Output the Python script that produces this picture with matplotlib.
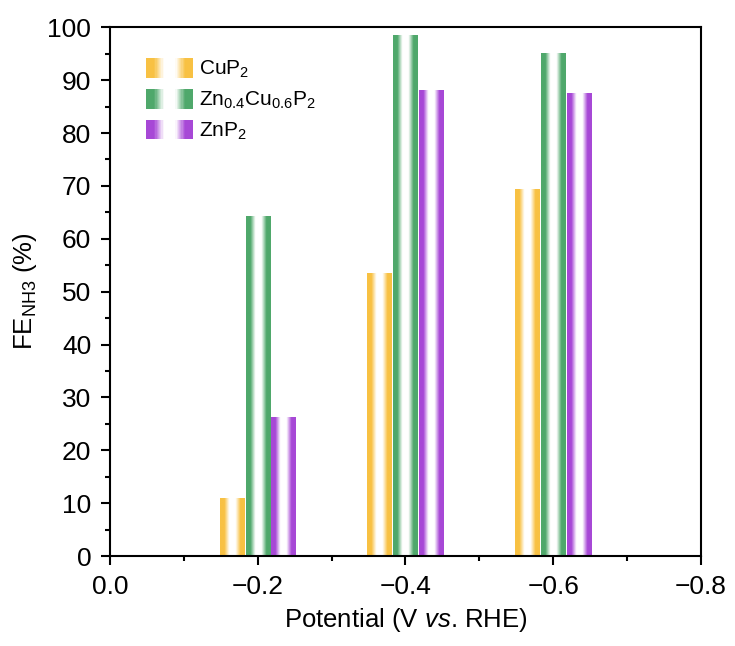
import numpy as np
import matplotlib
matplotlib.use('Agg')
import matplotlib.pyplot as plt
from matplotlib.patches import Rectangle
from matplotlib.legend_handler import HandlerBase
from matplotlib.colors import to_rgb

plt.rcParams['font.family'] = ['Liberation Sans', 'DejaVu Sans']
plt.rcParams['mathtext.fontset'] = 'custom'
plt.rcParams['mathtext.rm'] = 'Liberation Sans'
plt.rcParams['mathtext.it'] = 'Liberation Sans:italic'

potentials = [-0.2, -0.4, -0.6]
names = ['CuP$_2$', 'Zn$_{0.4}$Cu$_{0.6}$P$_2$', 'ZnP$_2$']
fe_cup2 = [10.8, 53.5, 69.3]
fe_zncup2 = [64.2, 98.5, 95.1]
fe_znp2 = [26.2, 88.0, 87.4]
colors = ['#F8C143', '#4FA86B', '#A748D6']

width = 0.033
# x axis runs from 0 to -0.8, so positive offset is drawn on the left
offsets = [0.035, 0.0, -0.035]


def weight(t):
    # colour at both edges, white in the middle
    return np.clip((np.abs(2 * t - 1) - 0.25) / 0.4, 0, 1)


def gradient_img(color, n=64):
    t = np.linspace(0, 1, n)
    w = weight(t)[:, None]
    rgb = 1 - w * (1 - np.array(to_rgb(color)))
    return rgb[None, :, :]


class GradientHandler(HandlerBase):
    def __init__(self, color):
        super().__init__()
        self.color = color

    def create_artists(self, legend, orig_handle, xdescent, ydescent,
                       width, height, fontsize, trans):
        n = 40
        t = (np.arange(n) + 0.5) / n
        c = np.array(to_rgb(self.color))
        arts = []
        for i in range(n):
            col = 1 - weight(t[i]) * (1 - c)
            r = Rectangle((-xdescent + width * i / n, -ydescent), width / n * 1.05,
                          height, facecolor=col, edgecolor='none', transform=trans)
            arts.append(r)
        return arts


fig = plt.figure(figsize=(7.35, 6.46), dpi=100)
ax = fig.add_axes([0.1497, 0.1393, 0.8040, 0.8185])

handles = []
for vals, off, col, name in zip([fe_cup2, fe_zncup2, fe_znp2], offsets, colors, names):
    x = np.array(potentials) + off
    bars = ax.bar(x, vals, width=width, color='none', edgecolor='none', label=name)
    img = gradient_img(col)
    for b in bars:
        x0, y0 = b.get_x(), b.get_y()
        ax.imshow(img, extent=[x0, x0 + b.get_width(), y0, y0 + b.get_height()],
                  aspect='auto', interpolation='bilinear', zorder=2)
    handles.append(Rectangle((0, 0), 1, 1, label=name))

ax.set_xlim(0.0, -0.8)
ax.set_ylim(0, 100)
ax.set_xticks([0.0, -0.2, -0.4, -0.6, -0.8])
ax.set_xticklabels(['0.0', '\u22120.2', '\u22120.4', '\u22120.6', '\u22120.8'])
ax.set_xticks([-0.1, -0.3, -0.5, -0.7], minor=True)
ax.set_yticks(range(0, 101, 10))
ax.set_yticks(range(5, 100, 10), minor=True)
ax.tick_params(axis='both', which='major', direction='out', length=6.5, width=1.5,
               labelsize=19, pad=7)
ax.tick_params(axis='both', which='minor', direction='out', length=3.5, width=1.5)
for s in ax.spines.values():
    s.set_linewidth(1.5)

ax.set_xlabel('Potential (V $\\it{vs}$. RHE)', fontsize=18.5, labelpad=5)
ax.set_ylabel('FE$_{\\mathrm{NH3}}$ (%)', fontsize=18.5, labelpad=6)

leg = ax.legend(handles=handles, loc='upper left', frameon=False, fontsize=15,
                handlelength=2.26, handleheight=1.06, handletextpad=0.3,
                labelspacing=0.42, borderaxespad=0, borderpad=0,
                bbox_to_anchor=(36 / 591, 1 - 31 / 529),
                handler_map={h: GradientHandler(c) for h, c in zip(handles, colors)})

fig.savefig('out.png', dpi=100)
